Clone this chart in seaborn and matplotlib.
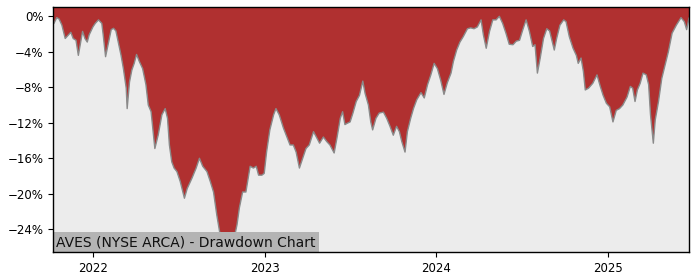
import matplotlib
matplotlib.use("Agg")
import matplotlib.pyplot as plt
import matplotlib.dates as mdates
from matplotlib.ticker import PercentFormatter, MultipleLocator
import pandas as pd
import seaborn as sns

title = "AVES (NYSE ARCA) - Drawdown Chart"

dates = [
    "2021-10-07", "2021-10-09", "2021-10-15", "2021-10-20", "2021-10-26", "2021-11-02", "2021-11-09",
    "2021-11-14", "2021-11-19", "2021-11-25", "2021-11-30", "2021-12-05", "2021-12-09", "2021-12-14",
    "2021-12-19", "2021-12-23", "2021-12-31", "2022-01-05", "2022-01-12", "2022-01-19", "2022-01-22",
    "2022-01-27", "2022-02-02", "2022-02-08", "2022-02-13", "2022-02-18", "2022-02-23", "2022-03-01",
    "2022-03-06", "2022-03-12", "2022-03-14", "2022-03-19", "2022-03-24", "2022-03-29", "2022-04-03",
    "2022-04-09", "2022-04-16", "2022-04-23", "2022-04-28", "2022-05-04", "2022-05-12", "2022-05-19",
    "2022-05-27", "2022-06-03", "2022-06-08", "2022-06-12", "2022-06-17", "2022-06-22", "2022-06-28",
    "2022-07-05", "2022-07-14", "2022-07-20", "2022-07-30", "2022-08-08", "2022-08-15", "2022-08-22",
    "2022-08-31", "2022-09-07", "2022-09-14", "2022-09-21", "2022-09-28", "2022-10-05", "2022-10-12",
    "2022-10-19", "2022-10-28", "2022-11-03", "2022-11-08", "2022-11-15", "2022-11-22", "2022-12-01",
    "2022-12-08", "2022-12-14", "2022-12-19", "2022-12-26", "2022-12-31", "2023-01-05", "2023-01-12",
    "2023-01-20", "2023-01-25", "2023-02-01", "2023-02-10", "2023-02-18", "2023-02-24", "2023-03-03",
    "2023-03-09", "2023-03-16", "2023-03-23", "2023-03-30", "2023-04-06", "2023-04-15", "2023-04-21",
    "2023-04-28", "2023-05-06", "2023-05-13", "2023-05-20", "2023-05-29", "2023-06-04", "2023-06-11",
    "2023-06-16", "2023-06-21", "2023-06-26", "2023-07-02", "2023-07-08", "2023-07-15", "2023-07-22",
    "2023-07-29", "2023-08-03", "2023-08-10", "2023-08-15", "2023-08-19", "2023-08-26", "2023-09-02",
    "2023-09-11", "2023-09-18", "2023-09-25", "2023-10-02", "2023-10-09", "2023-10-15", "2023-10-20",
    "2023-10-27", "2023-11-01", "2023-11-08", "2023-11-14", "2023-11-21", "2023-11-30", "2023-12-07",
    "2023-12-14", "2023-12-21", "2023-12-28", "2024-01-04", "2024-01-11", "2024-01-18", "2024-01-25",
    "2024-02-02", "2024-02-07", "2024-02-14", "2024-02-21", "2024-02-28", "2024-03-08", "2024-03-15",
    "2024-03-22", "2024-03-29", "2024-04-06", "2024-04-11", "2024-04-17", "2024-04-24", "2024-05-01",
    "2024-05-08", "2024-05-15", "2024-05-22", "2024-05-29", "2024-06-05", "2024-06-13", "2024-06-20",
    "2024-06-27", "2024-07-04", "2024-07-11", "2024-07-18", "2024-07-25", "2024-07-30", "2024-08-04",
    "2024-08-10", "2024-08-17", "2024-08-24", "2024-08-30", "2024-09-04", "2024-09-09", "2024-09-14",
    "2024-09-21", "2024-09-29", "2024-10-04", "2024-10-11", "2024-10-19", "2024-10-26", "2024-10-30",
    "2024-11-05", "2024-11-10", "2024-11-14", "2024-11-21", "2024-11-30", "2024-12-09", "2024-12-16",
    "2024-12-22", "2024-12-29", "2025-01-05", "2025-01-12", "2025-01-19", "2025-01-26", "2025-02-02",
    "2025-02-11", "2025-02-18", "2025-02-23", "2025-02-28", "2025-03-05", "2025-03-11", "2025-03-17",
    "2025-03-24", "2025-03-29", "2025-04-02", "2025-04-08", "2025-04-12", "2025-04-19", "2025-04-26",
    "2025-05-03", "2025-05-10", "2025-05-18", "2025-05-27", "2025-06-06", "2025-06-13", "2025-06-18",
    "2025-06-23",
]

drawdown_pct = [
    -0.9, -0.8, -0.15, -0.3, -1.0, -2.5, -2.1,
    -1.8, -2.5, -2.7, -4.4, -2.9, -1.7, -2.5,
    -2.9, -2.1, -1.2, -0.8, -0.4, -0.8, -2.1,
    -4.55, -3.0, -1.5, -1.35, -1.65, -2.9, -4.4,
    -5.9, -8.1, -10.4, -7.4, -6.05, -5.3, -4.3,
    -5.1, -5.9, -7.7, -10.0, -10.75, -14.9, -13.4,
    -11.1, -10.4, -11.5, -14.5, -16.4, -17.1, -17.5,
    -18.6, -20.5, -19.4, -18.25, -17.1, -16.0, -16.9,
    -17.5, -18.6, -19.8, -22.4, -24.6, -25.8, -25.4,
    -26.0, -25.0, -23.5, -21.6, -19.8, -19.8, -16.9,
    -17.1, -16.9, -17.9, -17.9, -17.7, -15.3, -12.8,
    -11.1, -10.4, -11.1, -12.6, -13.7, -14.5, -14.5,
    -15.3, -17.1, -16.0, -14.9, -14.5, -13.0, -13.6,
    -14.3, -13.6, -14.1, -14.5, -15.4, -13.7, -11.5,
    -10.75, -12.2, -12.05, -11.9, -10.9, -9.6, -8.9,
    -7.3, -8.7, -10.0, -11.9, -12.8, -11.5, -10.9,
    -10.8, -11.5, -12.4, -13.4, -12.4, -13.0, -14.1,
    -15.3, -13.0, -11.5, -10.4, -9.4, -8.6, -9.2,
    -7.7, -6.6, -5.3, -5.9, -7.2, -8.8, -7.5,
    -6.4, -5.1, -3.8, -2.9, -2.3, -1.4, -1.3,
    -1.4, -1.2, -0.4, -2.1, -3.6, -1.7, -0.4,
    -0.4, 0.0, -0.8, -1.9, -3.15, -3.2, -2.8,
    -2.7, -1.5, -0.4, -1.7, -3.4, -3.2, -6.4,
    -4.7, -2.5, -1.4, -1.65, -2.7, -3.8, -2.5,
    -1.0, -0.4, -0.6, -2.3, -3.6, -4.4, -5.3,
    -4.7, -6.2, -8.3, -8.1, -7.55, -6.6, -7.9,
    -8.9, -9.8, -10.2, -11.9, -10.6, -10.4, -10.0,
    -9.1, -7.9, -8.1, -9.6, -8.3, -7.55, -6.4,
    -6.6, -7.7, -11.1, -14.3, -11.7, -9.6, -7.0,
    -5.5, -4.0, -1.9, -1.0, -0.15, -0.6, -1.5,
    -0.2,
]

df = pd.DataFrame({"date": pd.to_datetime(dates), "dd": [v / 100 for v in drawdown_pct]})

fig = plt.figure(figsize=(7.0, 2.8), dpi=100)
ax = fig.add_axes([53 / 700, 1 - 252 / 280, (689 - 53) / 700, (252 - 7) / 280])
ax.set_facecolor("#ececec")

y_top = 0.0105
ax.fill_between(df["date"], df["dd"], 1.0, color="#b03030", linewidth=0, zorder=2)
sns.lineplot(data=df, x="date", y="dd", ax=ax, color="#8a8a8a", linewidth=1.0, zorder=3)

ax.set_xlim(df["date"].iloc[0], df["date"].iloc[-1])
ax.set_ylim(-0.2656, y_top)
ax.yaxis.set_major_locator(MultipleLocator(0.04))
ax.yaxis.set_major_formatter(PercentFormatter(1.0, decimals=0))
ax.xaxis.set_major_locator(mdates.YearLocator())
ax.xaxis.set_major_formatter(mdates.DateFormatter("%Y"))
ax.set_xlabel("")
ax.set_ylabel("")
ax.tick_params(labelsize=8.5, length=3.5)
for s in ax.spines.values():
    s.set_color("black")
    s.set_linewidth(1.0)
    s.set_zorder(6)

ax.text(0.005, 0.012, title, transform=ax.transAxes, fontsize=10, color="#111111",
        ha="left", va="bottom", zorder=5,
        bbox=dict(boxstyle="square,pad=0.25", facecolor="#b4b4b4", edgecolor="none"))

fig.savefig("out.png", dpi=100)
